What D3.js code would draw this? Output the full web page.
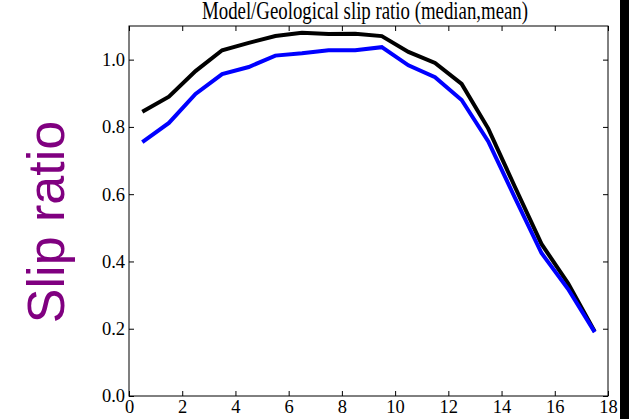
<!DOCTYPE html>
<html>
<head>
<meta charset="utf-8">
<script src="https://cdn.jsdelivr.net/npm/d3@7"></script>
<style>
  body { margin: 0; background: #fff; }
  svg { display: block; }
</style>
</head>
<body>
<script>
// bin centres and the two ratio series
const binCentres = [0.5, 1.5, 2.5, 3.5, 4.5, 5.5, 6.5, 7.5, 8.5, 9.5, 10.5, 11.5, 12.5, 13.5, 14.5, 15.5, 16.5, 17.5];
const meanRatio = [0.845, 0.89, 0.966, 1.028, 1.05, 1.07, 1.08, 1.076, 1.077, 1.07, 1.023, 0.99, 0.928, 0.795, 0.622, 0.452, 0.335, 0.192];
const medianRatio = [0.755, 0.812, 0.898, 0.957, 0.978, 1.012, 1.019, 1.028, 1.028, 1.037, 0.983, 0.948, 0.88, 0.757, 0.59, 0.425, 0.318, 0.19];
const xTicks = [0, 2, 4, 6, 8, 10, 12, 14, 16, 18];
const yTicks = [0.0, 0.2, 0.4, 0.6, 0.8, 1.0];

const W = 629, H = 419;
const plotLeft = 129, plotRight = 608, plotTop = 26, plotBottom = 396;
const fontSerif = "'Liberation Serif', 'DejaVu Serif', serif";

const svg = d3.select("body").append("svg")
  .attr("width", W)
  .attr("height", H);

const x = d3.scaleLinear().domain([0, 18]).range([plotLeft, plotRight]);
const y = d3.scaleLinear().domain([0, 1.1]).range([plotBottom, plotTop]);

// title, partly cut at the top
svg.append("text")
  .attr("x", 202)
  .attr("y", 19)
  .attr("textLength", 326)
  .attr("lengthAdjust", "spacingAndGlyphs")
  .style("font-family", fontSerif)
  .style("font-size", "25px")
  .text("Model/Geological slip ratio (median,mean)");

// y label
svg.append("text")
  .attr("transform", "translate(64," + 222 + ") rotate(-90)")
  .attr("text-anchor", "middle")
  .style("font-family", "'Liberation Sans', Arial, sans-serif")
  .style("font-size", "52px")
  .attr("fill", "#800080")
  .text("Slip ratio");

// lines
const line = d3.line()
  .x((d, i) => x(binCentres[i]))
  .y(d => y(d));

svg.append("path")
  .attr("d", line(meanRatio))
  .attr("fill", "none")
  .attr("stroke", "#000")
  .attr("stroke-width", 4);

svg.append("path")
  .attr("d", line(medianRatio))
  .attr("fill", "none")
  .attr("stroke", "#0000ff")
  .attr("stroke-width", 4);

// axes with inward ticks on all four sides
const bottomAxis = svg.append("g")
  .attr("transform", "translate(0," + plotBottom + ")")
  .call(d3.axisBottom(x).tickValues(xTicks).tickSize(-5).tickPadding(4).tickFormat(d3.format("d")));
const topAxis = svg.append("g")
  .attr("transform", "translate(0," + plotTop + ")")
  .call(d3.axisTop(x).tickValues(xTicks).tickSize(-5).tickFormat(""));
const leftAxis = svg.append("g")
  .attr("transform", "translate(" + plotLeft + ",0)")
  .call(d3.axisLeft(y).tickValues(yTicks).tickSize(-5).tickPadding(4).tickFormat(d3.format(".1f")));
const rightAxis = svg.append("g")
  .attr("transform", "translate(" + plotRight + ",0)")
  .call(d3.axisRight(y).tickValues(yTicks).tickSize(-5).tickFormat(""));

[bottomAxis, topAxis, leftAxis, rightAxis].forEach(a => {
  a.select(".domain").remove();
  a.selectAll(".tick line").attr("stroke", "#000");
  a.selectAll("text")
    .style("font-family", fontSerif)
    .style("font-size", "18.5px")
    .attr("fill", "#000");
});

// frame
svg.append("rect")
  .attr("x", plotLeft)
  .attr("y", plotTop)
  .attr("width", plotRight - plotLeft)
  .attr("height", plotBottom - plotTop)
  .attr("fill", "none")
  .attr("stroke", "#000")
  .attr("stroke-width", 1);

// black strip on the right edge
svg.append("rect")
  .attr("x", 620)
  .attr("y", 0)
  .attr("width", W - 620)
  .attr("height", H)
  .attr("fill", "#000");
</script>
</body>
</html>
